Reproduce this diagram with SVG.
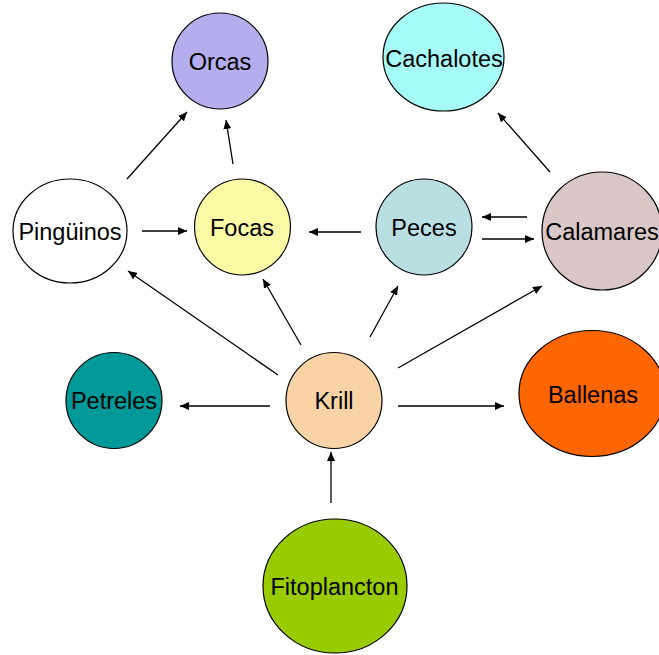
<svg xmlns="http://www.w3.org/2000/svg" width="659" height="655" viewBox="0 0 659 655">
<style>
.n{stroke:#000;stroke-width:1.2}
.t{font-family:"Liberation Sans",Arial,sans-serif;font-size:23.5px;fill:#000;text-anchor:middle}
.c line{stroke:#000;stroke-width:1.3;marker-end:url(#ah)}
</style>
<defs>
<marker id="ah" markerUnits="userSpaceOnUse" markerWidth="10" markerHeight="8" refX="9" refY="4" orient="auto">
<path d="M0,0 L9,4 L0,8 Z" fill="#000"/>
</marker>
</defs>
<rect width="659" height="655" fill="#fff"/>
<g class="c">
<line x1="127" y1="179" x2="187" y2="112"/>
<line x1="233" y1="164" x2="226" y2="120"/>
<line x1="142" y1="231" x2="187" y2="231"/>
<line x1="361" y1="232" x2="309" y2="232"/>
<line x1="527" y1="217" x2="482" y2="217"/>
<line x1="482" y1="239" x2="534" y2="239"/>
<line x1="550" y1="172" x2="498" y2="113"/>
<line x1="278" y1="375" x2="128" y2="271"/>
<line x1="301" y1="345" x2="263" y2="279"/>
<line x1="370" y1="337" x2="398" y2="286"/>
<line x1="398" y1="368" x2="542" y2="286"/>
<line x1="270" y1="406" x2="180" y2="406"/>
<line x1="398" y1="406" x2="504" y2="406"/>
<line x1="331" y1="503" x2="331" y2="452"/>
</g>
<g id="orcas"><circle class="n" cx="220" cy="61" r="48" fill="#B4AEEF"/><text class="t" x="220" y="70">Orcas</text></g>
<g id="cachalotes"><ellipse class="n" cx="443.5" cy="57" rx="60.5" ry="54" fill="#A6FBF8"/><text class="t" x="444" y="67">Cachalotes</text></g>
<g id="pinguinos"><ellipse class="n" cx="70" cy="231" rx="57" ry="52" fill="#fff"/><text class="t" x="70" y="240">Pingüinos</text></g>
<g id="focas"><circle class="n" cx="242.5" cy="227" r="48" fill="#FAF9A6"/><text class="t" x="242" y="236">Focas</text></g>
<g id="peces"><circle class="n" cx="424" cy="227" r="48" fill="#B9DFE3"/><text class="t" x="424" y="236">Peces</text></g>
<g id="calamares"><ellipse class="n" cx="602" cy="231" rx="60" ry="59" fill="#D9C7C7"/><text class="t" x="602" y="240">Calamares</text></g>
<g id="petreles"><circle class="n" cx="114" cy="400.5" r="48" fill="#009999"/><text class="t" x="114" y="409">Petreles</text></g>
<g id="krill"><circle class="n" cx="334" cy="400.5" r="48" fill="#F9D3A6"/><text class="t" x="334" y="409">Krill</text></g>
<g id="ballenas"><ellipse class="n" cx="592" cy="393.5" rx="73" ry="63" fill="#FF6600"/><text class="t" x="593" y="403">Ballenas</text></g>
<g id="fitoplancton"><ellipse class="n" cx="335" cy="586" rx="72" ry="67" fill="#99CC00"/><text class="t" x="334.5" y="595">Fitoplancton</text></g>
</svg>
